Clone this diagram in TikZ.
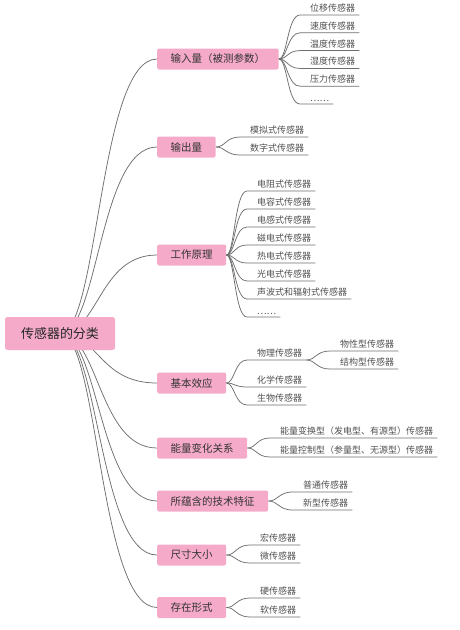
\documentclass[tikz,border=0pt]{standalone}
\usepackage{fontspec}
\setmainfont{Noto Sans CJK SC}
\usepackage{tikz}
\usetikzlibrary{calc,backgrounds}
\definecolor{topicc}{HTML}{F4AAC8}
\definecolor{linec}{HTML}{6E6E6E}
\definecolor{leafc}{HTML}{505050}
\tikzset{elbow/.style={to path={.. controls ($(\tikztostart)!.4!(\tikztotarget |- \tikztostart)$)
  and ($(\tikztostart |- \tikztotarget)!.4!(\tikztotarget)$) .. (\tikztotarget)}}}

\begin{document}
\begin{tikzpicture}[x=1pt, y=-1pt,
  root/.style={rounded corners=2.5pt, fill=topicc, minimum width=110pt, minimum height=33pt,
    font=\fontsize{13}{15}\selectfont, text=black!85},
  topic/.style={rounded corners=2pt, fill=topicc, anchor=west, minimum height=21pt,
    inner xsep=13.5pt, font=\fontsize{10.5}{12}\selectfont, text=black!80},
  leaf/.style={anchor=south west, inner xsep=4pt, inner ysep=2.5pt, execute at begin node=\hspace{6pt},
    font=\fontsize{9}{11}\selectfont, text=leafc},
  link/.style={draw=linec, line width=0.75pt}]
\useasboundingbox (0,0) rectangle (460,630);
\node[root] (r) at (60,333.5) {传感器的分类};
\node[topic] (b1) at (157,59) {输入量（被测参数）};
\node[topic] (b2) at (157,147) {输出量};
\node[topic] (b3) at (157,255) {工作原理};
\node[topic] (b4) at (157,383) {基本效应};
\node[topic] (b5) at (157,448) {能量变化关系};
\node[topic] (b6) at (157,501) {所蕴含的技术特征};
\node[topic] (b7) at (157,555) {尺寸大小};
\node[topic] (b8) at (157,607.5) {存在形式};
\begin{scope}[on background layer]
\foreach \b in {1,...,8}\draw[link] (r.center) to[elbow] (b\b.west);
\end{scope}
% leaves
\foreach \t [count=\k] in {位移传感器,速度传感器,温度传感器,湿度传感器,压力传感器,……}{
  \node[leaf] (a\k) at (300,{15+17.8*(\k-1)}) {\t};
  \draw[link] (b1.east) to[elbow] (a\k.south west) -- (a\k.south east);}
\foreach \t/\y [count=\k] in {模拟式传感器/137,数字式传感器/155}{
  \node[leaf] (c\k) at (240,\y) {\t};
  \draw[link] (b2.east) to[elbow] (c\k.south west) -- (c\k.south east);}
\foreach \t [count=\k] in {电阻式传感器,电容式传感器,电感式传感器,磁电式传感器,热电式传感器,光电式传感器,声波式和辐射式传感器,……}{
  \node[leaf] (d\k) at (247,{191+18*(\k-1)}) {\t};
  \draw[link] (b3.east) to[elbow] (d\k.south west) -- (d\k.south east);}
\foreach \t/\y [count=\k] in {物理传感器/360,化学传感器/387,生物传感器/405}{
  \node[leaf] (e\k) at (247,\y) {\t};
  \draw[link] (b4.east) to[elbow] (e\k.south west) -- (e\k.south east);}
\foreach \t/\y [count=\k] in {物性型传感器/351,结构型传感器/369}{
  \node[leaf] (p\k) at (330,\y) {\t};
  \draw[link] (e1.south east) to[elbow] (p\k.south west) -- (p\k.south east);}
\foreach \t/\y [count=\k] in {能量变换型（发电型、有源型）传感器/438,能量控制型（参量型、无源型）传感器/457}{
  \node[leaf] (f\k) at (270,\y) {\t};
  \draw[link] (b5.east) to[elbow] (f\k.south west) -- (f\k.south east);}
\foreach \t/\y [count=\k] in {普通传感器/492,新型传感器/510}{
  \node[leaf] (g\k) at (293,\y) {\t};
  \draw[link] (b6.east) to[elbow] (g\k.south west) -- (g\k.south east);}
\foreach \t/\y [count=\k] in {宏传感器/545,微传感器/563}{
  \node[leaf] (h\k) at (250,\y) {\t};
  \draw[link] (b7.east) to[elbow] (h\k.south west) -- (h\k.south east);}
\foreach \t/\y [count=\k] in {硬传感器/598,软传感器/617}{
  \node[leaf] (k\k) at (250,\y) {\t};
  \draw[link] (b8.east) to[elbow] (k\k.south west) -- (k\k.south east);}
\end{tikzpicture}
\end{document}
